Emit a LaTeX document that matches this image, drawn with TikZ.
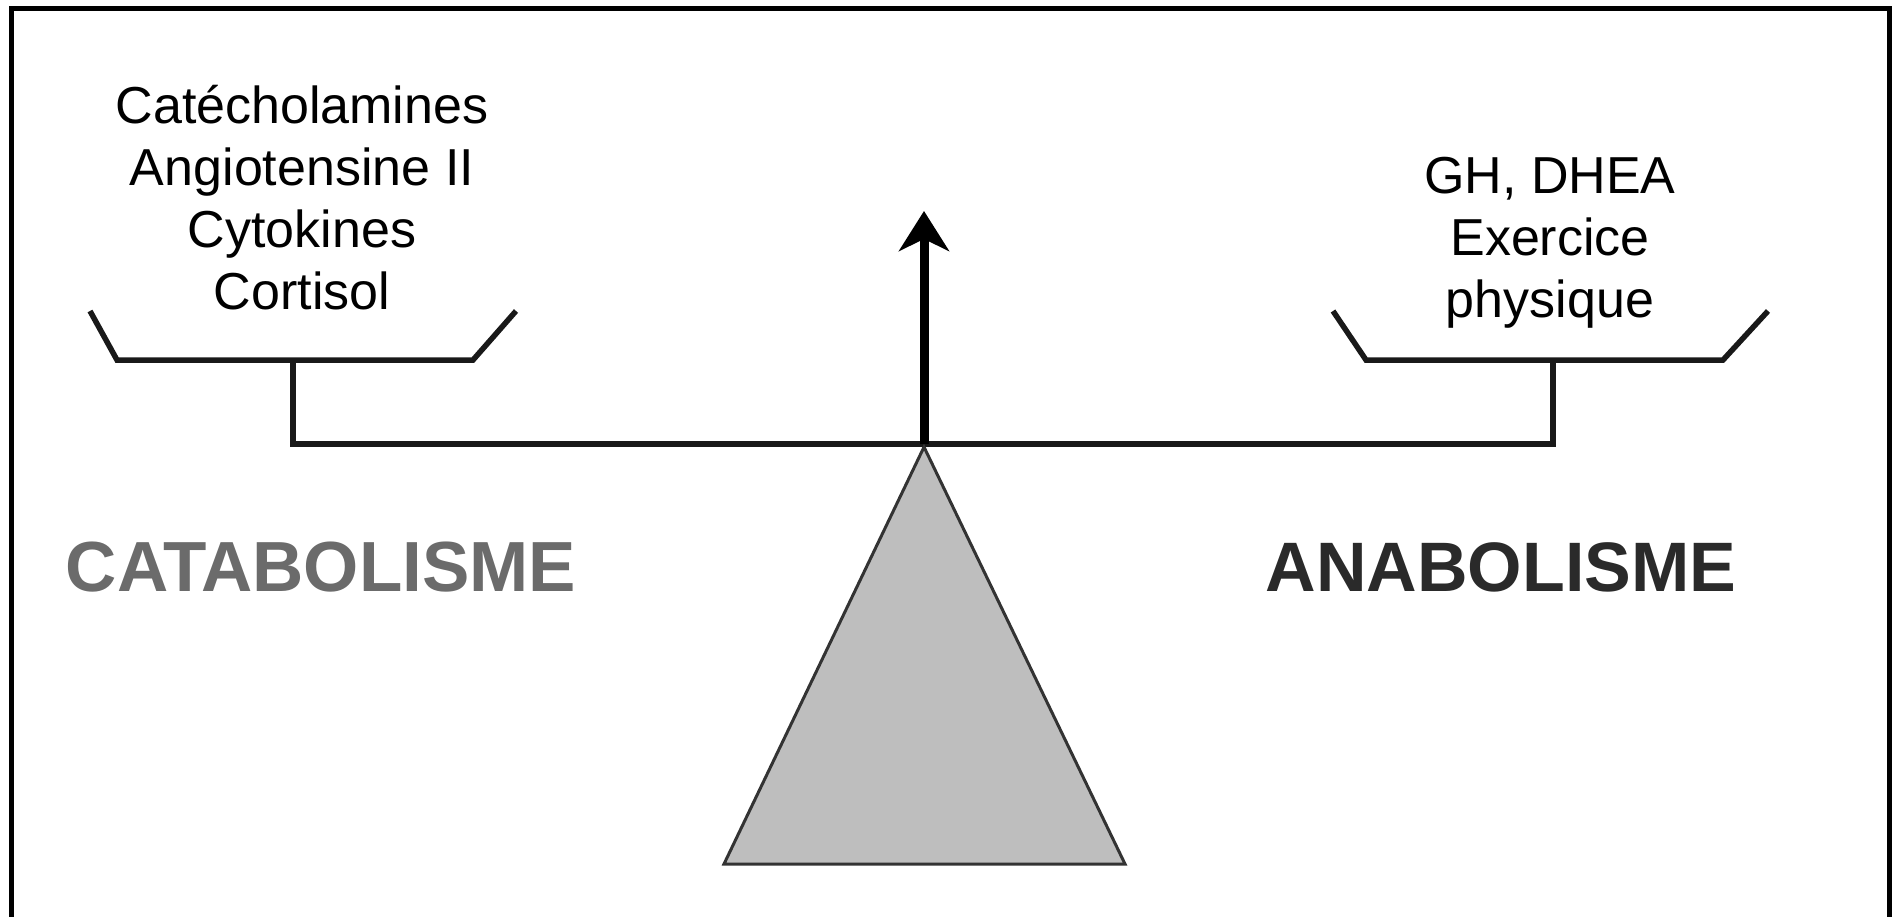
\documentclass[tikz,border=0pt]{standalone}
\usepackage{fontspec}
\setmainfont{Liberation Sans}
\usetikzlibrary{arrows.meta}
\definecolor{fulcrumgray}{HTML}{BEBEBE}
\definecolor{catagray}{HTML}{6B6B6B}
\definecolor{anadark}{HTML}{2A2A2A}
\begin{document}
\begin{tikzpicture}[x=1pt,y=-1pt,
  frameline/.style={line width=5pt,black},
  beamline/.style={line width=5.5pt,black!90,line join=miter},
  smalltext/.style={align=center,anchor=base,inner sep=0pt,
    font=\fontsize{52}{62}\selectfont},
  bigtext/.style={anchor=base,inner sep=0pt,
    font=\fontsize{71}{80}\selectfont\bfseries}]
\useasboundingbox (0,0) rectangle (1892,917);

% outer frame, open at the bottom
\draw[frameline] (11,920) -- (11,9) -- (1889,9) -- (1889,920);

% beam and hangers
\coordinate (pivot) at (924,444);
\coordinate (lhang) at (293,444);
\coordinate (rhang) at (1553,444);
\coordinate (lpan) at (293,360);
\coordinate (rpan) at (1553,360);
\draw[beamline] (lpan) -- (lhang) -- (rhang) -- (rpan);

% left pan
\coordinate (lp1) at (90,311);
\coordinate (lp2) at (117,360);
\coordinate (lp3) at (473,360);
\coordinate (lp4) at (516,311);
\draw[beamline] (lp1) -- (lp2) -- (lp3) -- (lp4);

% right pan
\coordinate (rp1) at (1333,311);
\coordinate (rp2) at (1366,360);
\coordinate (rp3) at (1723,360);
\coordinate (rp4) at (1768,311);
\draw[beamline] (rp1) -- (rp2) -- (rp3) -- (rp4);

% fulcrum
\coordinate (apex) at (924,447);
\coordinate (baseR) at (1125,864);
\coordinate (baseL) at (724,864);
\draw[fill=fulcrumgray,draw=black!80,line width=3pt,line join=miter] (apex) -- (baseR) -- (baseL) -- cycle;

% needle
\coordinate (tip) at (924,211);
\draw[line width=9pt,-{Stealth[length=40pt,width=50pt,inset=12pt]}] (pivot) -- (tip);

% texts (base anchor sits on the last line)
\node[smalltext] (cata) at (302,309) {Catécholamines\\Angiotensine II\\Cytokines\\Cortisol};
\node[smalltext] (ana) at (1550,317) {GH, DHEA\\Exercice\\physique};
\node[bigtext,text=catagray] (catab) at (321,591) {CATABOLISME};
\node[bigtext,text=anadark,font=\fontsize{70}{80}\selectfont\bfseries] (anab) at (1501,591) {ANABOLISME};
\end{tikzpicture}
\end{document}
